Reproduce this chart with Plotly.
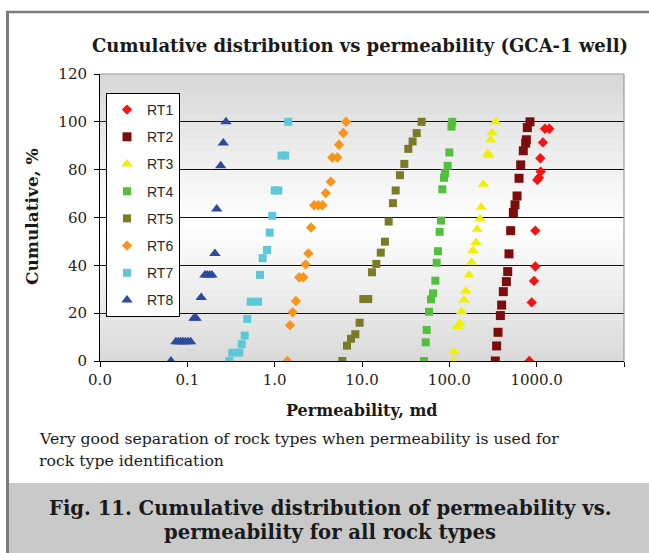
import plotly.graph_objects as go

# ---- data: permeability (md) vs cumulative frequency (%) per rock type ----
rock_types = ["RT1", "RT2", "RT3", "RT4", "RT5", "RT6", "RT7", "RT8"]

rt1_perm = [824, 877, 932, 966, 966, 1018, 1060, 1111, 1101, 1180, 1245, 1396]
rt1_cum = [0, 24.5, 33.5, 39.5, 54.5, 75.7, 76.6, 79.2, 84.8, 91.4, 97.1, 97.1]

rt2_perm = [336, 348, 361, 384, 397, 415, 450, 466, 482, 504, 541, 565, 596, 628,
            656, 703, 748, 762, 782, 839]
rt2_cum = [0, 6.3, 12.0, 19.0, 23.4, 29.0, 33.2, 37.4, 44.8, 54.5, 62.1, 65.3, 69.0,
           76.4, 82.0, 87.9, 91.1, 92.5, 97.6, 100]

rt3_perm = [111, 113, 124, 132, 138, 147, 154, 168, 180, 187, 202, 209, 224, 231,
            245, 276, 283, 297, 310, 339]
rt3_cum = [0, 3.9, 14.4, 15.8, 20.6, 25.5, 29.3, 36.0, 41.3, 46.2, 49.5, 55.1, 59.4,
           64.3, 73.9, 86.8, 86.0, 92.5, 95.3, 100]

rt4_perm = [51.3, 53.6, 55.0, 58.5, 61.7, 65.0, 69.2, 71.6, 74.1, 77.4, 80.2, 83.1,
            86.9, 89.2, 95.7, 100, 106, 108]
rt4_cum = [0, 7.8, 13.0, 20.6, 25.8, 28.3, 33.6, 41.1, 45.9, 54.0, 58.7, 71.8, 76.6,
           78.5, 81.6, 87.2, 98.0, 100]

rt5_perm = [5.95, 6.73, 7.48, 8.39, 9.40, 10.35, 11.8, 13.0, 14.6, 16.4, 18.3, 20.2,
            22.6, 24.3, 27.2, 30.5, 33.9, 38.0, 42.3, 48.2]
rt5_cum = [0, 6.4, 9.3, 11.2, 16.0, 25.9, 25.9, 37.1, 40.6, 45.3, 49.9, 58.3, 66.0,
           71.3, 77.7, 82.4, 88.7, 91.8, 95.3, 100]

rt6_perm = [1.40, 1.50, 1.61, 1.75, 1.91, 2.13, 2.26, 2.43, 2.61, 2.84, 3.16, 3.52,
            3.84, 4.38, 4.57, 5.22, 5.46, 6.11, 6.56]
rt6_cum = [0, 14.9, 20.4, 25.1, 35.0, 35.0, 40.4, 45.0, 55.8, 65.1, 65.1, 65.1, 70.2,
           75.0, 85.1, 85.1, 90.4, 95.3, 100]

rt7_perm = [0.303, 0.327, 0.394, 0.419, 0.453, 0.486, 0.531, 0.644, 0.679, 0.729,
            0.817, 0.877, 0.94, 1.0, 1.1, 1.2, 1.32, 1.43]
rt7_cum = [0, 3.5, 3.5, 7.0, 10.6, 17.6, 24.8, 24.8, 36.0, 43.0, 46.4, 53.7, 60.7,
           71.3, 71.3, 85.9, 85.9, 100]

rt8_perm = [0.065, 0.074, 0.079, 0.084, 0.089, 0.095, 0.102, 0.109, 0.119, 0.126,
            0.144, 0.159, 0.169, 0.180, 0.191, 0.207, 0.217, 0.241, 0.258, 0.277]
rt8_cum = [0, 8.1, 8.1, 8.1, 8.1, 8.1, 8.1, 8.1, 17.9, 17.9, 26.6, 36.0, 36.0, 36.0,
           36.0, 45.0, 63.6, 81.6, 91.1, 100]

x_tickvals = [0.01, 0.1, 1, 10, 100, 1000, 10000]
x_ticktext = ["0.0", "0.1", "1.0", "10.0", "100.0", "1000.0", "10000.0"]
y_tickvals = [0, 20, 40, 60, 80, 100, 120]
y_ticktext = ["0", "20", "40", "60", "80", "100", "120"]

series = [
    (rt1_perm, rt1_cum, "diamond", "#f51414", 8),
    (rt2_perm, rt2_cum, "square", "#7d0c0c", 9),
    (rt3_perm, rt3_cum, "triangle-up", "#f2f000", 10),
    (rt4_perm, rt4_cum, "square", "#52c03c", 8),
    (rt5_perm, rt5_cum, "square", "#7b7a26", 8),
    (rt6_perm, rt6_cum, "diamond", "#fa9418", 8),
    (rt7_perm, rt7_cum, "square", "#5cc8d8", 8),
    (rt8_perm, rt8_cum, "triangle-up", "#2c4a9e", 10),
]

SERIF = "DejaVu Serif"
W, H = 649, 553
L, R, T, B = 100, 25, 74, 192          # plot area margins (px)


def px(x):
    return (x - L) / (W - L - R)


def py(y):
    return (H - B - y) / (H - T - B)


fig = go.Figure()
for name, (xs, ys, sym, col, size) in zip(rock_types, series):
    fig.add_trace(go.Scatter(
        x=xs, y=ys, mode="markers", name=name, legendgroup=name,
        marker=dict(symbol=sym, color=col, size=size, line=dict(width=0)),
    ))

shapes = []
# vertical gradient fill of the plot area: grey at top and bottom, white in the middle
n_strips = 48
for i in range(n_strips):
    y0 = 120 * i / n_strips
    y1 = 120 * (i + 1) / n_strips
    d = abs((y0 + y1) / 2 - 58) / 62
    g = int(round(255 - d * 40))
    shapes.append(dict(type="rect", xref="paper", yref="y", x0=0, x1=1, y0=y0, y1=y1,
                       fillcolor=f"rgb({g},{g},{g})", line=dict(width=0), layer="below"))
# top / right plot border in grey
shapes.append(dict(type="line", xref="paper", yref="paper", x0=0, x1=1, y0=1, y1=1,
                   line=dict(color="#9a9a9a", width=1.2)))
shapes.append(dict(type="line", xref="paper", yref="paper", x0=1, x1=1, y0=0, y1=1,
                   line=dict(color="#9a9a9a", width=1.2)))
# caption band and outer frame
shapes.append(dict(type="rect", xref="paper", yref="paper", x0=px(8), x1=px(W + 2),
                   y0=py(483), y1=py(H + 2), fillcolor="#c9c9c9", line=dict(width=0)))
shapes.append(dict(type="line", xref="paper", yref="paper", x0=px(7.5), x1=px(7.5),
                   y0=py(11), y1=py(H + 2), line=dict(color="#7c7c7c", width=3)))
shapes.append(dict(type="line", xref="paper", yref="paper", x0=px(6), x1=px(W + 2),
                   y0=py(12), y1=py(12), line=dict(color="#7c7c7c", width=2.5)))

annotations = [
    dict(text="Cumulative distribution vs permeability (GCA-1 well)",
         x=px(360), y=py(46), font=dict(family=SERIF, size=18, color="#1a1a1a", weight="bold")),
    dict(text="Cumulative, %", x=px(32), y=py(217), textangle=-90,
         font=dict(family=SERIF, size=17, color="#1a1a1a", weight="bold")),
    dict(text="Permeability, md", x=px(362), y=py(410),
         font=dict(family=SERIF, size=16, color="#1a1a1a", weight="bold")),
    dict(text="Very good separation of rock types when permeability is used for",
         x=px(37), y=py(438), xanchor="left",
         font=dict(family=SERIF, size=15.7, color="#1a1a1a")),
    dict(text="rock type identification", x=px(37), y=py(460), xanchor="left",
         font=dict(family=SERIF, size=15.7, color="#1a1a1a")),
    dict(text="Fig. 11. Cumulative distribution of permeability vs.",
         x=px(330), y=py(508),
         font=dict(family=SERIF, size=19.6, color="#1a1a1a", weight="bold")),
    dict(text="permeability for all rock types", x=px(330), y=py(532),
         font=dict(family=SERIF, size=19.6, color="#1a1a1a", weight="bold")),
]
for a in annotations:
    a.update(xref="paper", yref="paper", showarrow=False)
    a.setdefault("xanchor", "center")
    a.setdefault("yanchor", "middle")

fig.update_layout(
    width=W, height=H,
    margin=dict(l=L, r=R, t=T, b=B, pad=0),
    paper_bgcolor="white", plot_bgcolor="white",
    shapes=shapes, annotations=annotations,
    showlegend=True,
    legend=dict(
        x=px(106), y=py(93), xanchor="left", yanchor="top",
        bgcolor="white", bordercolor="black", borderwidth=1,
        font=dict(family="Liberation Sans", size=14, color="#2a2a2a"),
        traceorder="grouped", tracegroupgap=6, itemsizing="trace",
    ),
    xaxis=dict(
        type="log", range=[-2, 4], tickvals=x_tickvals, ticktext=x_ticktext,
        showgrid=False, zeroline=False, showline=True, linecolor="black", linewidth=1,
        ticks="outside", ticklen=5, tickcolor="black",
        tickfont=dict(family=SERIF, size=15, color="#222"),
    ),
    yaxis=dict(
        range=[0, 120], tickvals=y_tickvals, ticktext=y_ticktext,
        showgrid=True, gridcolor="#111", gridwidth=1, zeroline=False,
        showline=True, linecolor="black", linewidth=1,
        ticks="outside", ticklen=5, tickcolor="black", ticklabelstandoff=4,
        tickfont=dict(family=SERIF, size=15, color="#222"),
    ),
)

fig.write_html("out.html")
